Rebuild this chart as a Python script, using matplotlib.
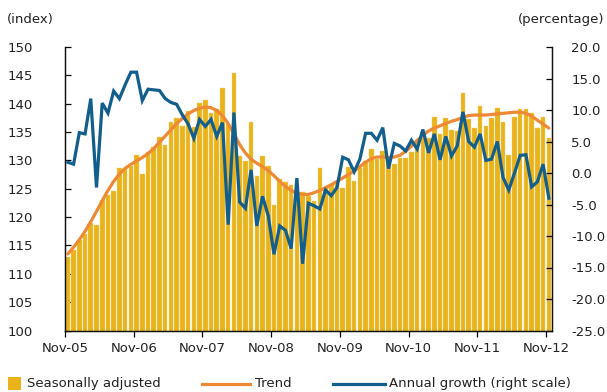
import numpy as np
import matplotlib
matplotlib.use("Agg")
import matplotlib.pyplot as plt
from matplotlib.lines import Line2D
from matplotlib.patches import Rectangle

plt.rcParams["font.family"] = ["DejaVu Sans"]
plt.rcParams["axes.unicode_minus"] = False

# Monthly index, Nov-05 .. Nov-12
seasonally_adjusted = [
    113.0, 114.2, 116.0, 117.1, 118.9, 118.6, 123.0, 123.9, 124.6, 128.6,
    128.7, 129.1, 130.9, 127.6, 131.5, 132.3, 134.1, 132.7, 136.8, 137.4,
    136.1, 138.8, 135.9, 140.1, 140.6, 138.4, 139.0, 142.7, 136.5, 145.5,
    130.7, 129.9, 136.7, 127.2, 130.8, 129.1, 122.2, 126.7, 126.2, 125.7,
    123.5, 124.4, 123.8, 122.9, 128.6, 125.2, 125.8, 126.1, 125.1, 128.8,
    126.3, 128.6, 129.9, 132.0, 130.2, 131.7, 129.6, 129.3, 130.5, 130.5,
    131.4, 133.6, 133.9, 134.0, 137.6, 134.6, 137.4, 135.3, 135.1, 141.8,
    137.3, 135.8, 139.6, 136.1, 137.4, 139.2, 136.8, 130.9, 137.7, 139.0,
    139.0, 138.4, 135.7, 137.7, 133.9,
]

trend = [
    113.5, 114.7, 116.0, 117.5, 119.2, 121.0, 122.9, 124.7, 126.3, 127.6,
    128.6, 129.3, 129.9, 130.5, 131.2, 132.1, 133.2, 134.3, 135.4, 136.5,
    137.4, 138.2, 138.8, 139.2, 139.4, 139.3, 138.8, 137.9, 136.5, 134.7,
    132.8, 131.3, 130.2, 129.5, 128.9, 128.2, 127.3, 126.3, 125.4, 124.7,
    124.2, 124.0, 124.0, 124.3, 124.7, 125.2, 125.7, 126.3, 126.9, 127.5,
    128.1, 128.9, 129.7, 130.3, 130.6, 130.6, 130.5, 130.6, 130.9, 131.6,
    132.5, 133.5, 134.4, 135.2, 135.7, 136.1, 136.5, 136.9, 137.2, 137.6,
    137.9, 138.0, 138.0, 138.0, 138.1, 138.2, 138.3, 138.4, 138.5, 138.5,
    138.3, 137.8, 137.1, 136.4, 135.7,
]

annual_growth = [
    1.7, 1.4, 6.4, 6.2, 11.8, -2.3, 11.1, 9.5, 13.0, 11.8,
    14.0, 16.0, 16.0, 11.5, 13.3, 13.2, 13.1, 11.8, 11.2, 10.9,
    9.2, 7.8, 5.5, 8.5, 7.4, 8.5, 5.8, 8.0, -8.2, 9.6,
    -4.6, -5.6, 0.5, -8.4, -3.7, -6.8, -12.9, -8.4, -9.1, -12.0,
    -0.8, -14.4, -4.8, -5.2, -5.7, -2.7, -3.6, -2.3, 2.5, 2.1,
    0.2, 2.2, 6.3, 6.3, 5.2, 7.2, 0.7, 4.7, 4.3, 3.5,
    5.2, 3.8, 6.9, 3.2, 6.2, 2.1, 5.8, 2.7, 4.3, 9.7,
    5.0, 4.1, 6.2, 2.0, 2.2, 5.0, -0.7, -2.7, 0.0, 2.8,
    2.9, -2.2, -1.4, 1.4, -4.0,
]

tick_labels = ["Nov-05", "Nov-06", "Nov-07", "Nov-08", "Nov-09", "Nov-10", "Nov-11", "Nov-12"]

BAR_COLOR = "#EAB319"
TREND_COLOR = "#EE8935"
GROWTH_COLOR = "#125E8C"
TEXT_COLOR = "#222222"
FS = 9.5

W, H = 607, 392
fig = plt.figure(figsize=(W / 100, H / 100), dpi=100)
ax = fig.add_axes([65 / W, 1 - 330.5 / H, (551.7 - 65) / W, (330.5 - 47) / H])

n = len(seasonally_adjusted)
x = np.arange(n) + 0.5

ax.bar(x, seasonally_adjusted, width=0.8, color=BAR_COLOR, edgecolor="#F3D27A",
       linewidth=0.3, zorder=2)
ax.plot(x, trend, color=TREND_COLOR, lw=2.3, solid_capstyle="round", zorder=3)

ax.set_xlim(0, n)
ax.set_ylim(100, 150)
ax.set_yticks(np.arange(100, 151, 5))
ax.set_xticks(np.arange(0, n, 12))
ax.set_xticklabels(tick_labels)

ax2 = ax.twinx()
ax2.plot(x, annual_growth, color=GROWTH_COLOR, lw=2.3, solid_joinstyle="miter", zorder=4)
ax2.set_ylim(-25, 20)
ax2.set_yticks(np.arange(-25, 21, 5))
ax2.set_yticklabels([f"{v:.1f}" for v in np.arange(-25, 21, 5)])

for a in (ax, ax2):
    a.spines["top"].set_visible(False)
    for s in ("left", "right", "bottom"):
        a.spines[s].set_color("#111111")
        a.spines[s].set_linewidth(0.9)
    a.patch.set_visible(False)

ax.tick_params(axis="y", direction="in", length=4, width=0.9, pad=23,
               labelsize=FS, labelcolor=TEXT_COLOR)
ax.tick_params(axis="x", direction="out", length=4, width=0.9, pad=4,
               labelsize=FS, labelcolor=TEXT_COLOR)
ax2.tick_params(axis="y", direction="in", length=4, width=0.9, pad=14,
                labelsize=FS, labelcolor=TEXT_COLOR)

fig.text(7 / W, 1 - 19 / H, "(index)", ha="left", va="center", fontsize=FS, color=TEXT_COLOR)
fig.text(604 / W, 1 - 19 / H, "(percentage)", ha="right", va="center", fontsize=FS, color=TEXT_COLOR)

# Legend row along the bottom
ly = 1 - 383.5 / H
fig.patches.append(Rectangle((8 / W, 1 - 390 / H), 13 / W, 13 / H, transform=fig.transFigure,
                             facecolor=BAR_COLOR, edgecolor="none"))
fig.text(27 / W, ly, "Seasonally adjusted", ha="left", va="center", fontsize=FS, color=TEXT_COLOR)
fig.lines.append(Line2D([202 / W, 250 / W], [ly, ly], transform=fig.transFigure,
                        color=TREND_COLOR, lw=2.3))
fig.text(255 / W, ly, "Trend", ha="left", va="center", fontsize=FS, color=TEXT_COLOR)
fig.lines.append(Line2D([333 / W, 385 / W], [ly, ly], transform=fig.transFigure,
                        color=GROWTH_COLOR, lw=2.3))
fig.text(389 / W, ly, "Annual growth (right scale)", ha="left", va="center", fontsize=FS,
         color=TEXT_COLOR)

fig.savefig("out.png", dpi=100)
